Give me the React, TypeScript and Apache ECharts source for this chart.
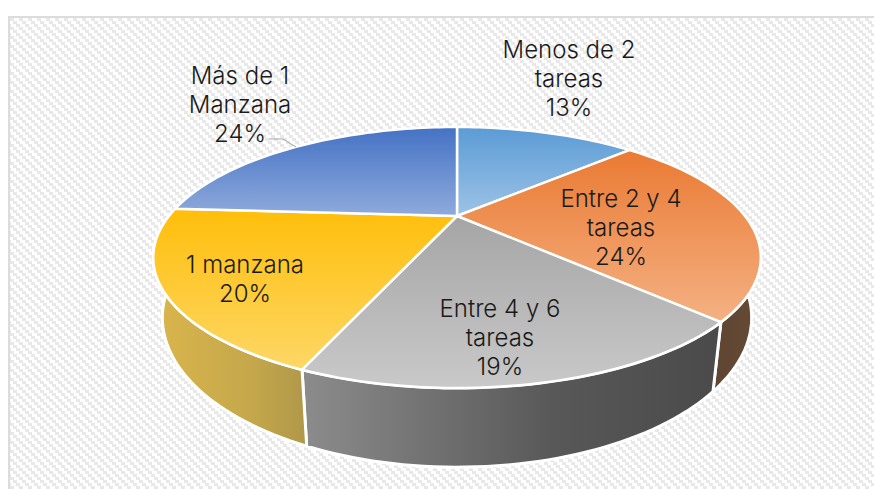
import React, { useEffect, useRef } from "react";
import * as echarts from "echarts";

const categories = ["Menos de 2 tareas", "Entre 2 y 4 tareas", "Entre 4 y 6 tareas", "1 manzana", "Más de 1 Manzana"];
const values = [13, 24.4, 18.8, 19.8, 24];
const labelLines = [
  ["Menos de 2", "tareas"],
  ["Entre 2 y 4", "tareas"],
  ["Entre 4 y 6", "tareas"],
  ["1 manzana"],
  ["Más de 1", "Manzana"],
];
const labelCenters = [[569, 78], [621, 227], [500, 337], [245, 279], [240, 104]];
const topColors = [["#5b9bd5", "#9dc3e6"], ["#ea7a33", "#f4b183"], ["#a5a5a5", "#c9c9c9"], ["#ffbe0a", "#fdd766"], ["#4472c4", "#8faadc"]];
const sideColors = [["#5b9bd5", "#5b9bd5", "#5b9bd5"], ["#5f4632", "#634834", "#664a36"], ["#8c8c8c", "#585858", "#4a4a4a"], ["#dab54c", "#c6a94b", "#b0984a"], ["#4472c4", "#4472c4", "#4472c4"]];

const OX = 457, OY = 216, A = 288, B = 117.3, K = 0.318, SHRINK = 0.97, DEPTH = 54;
const total = values.reduce((a, b) => a + b, 0);
const starts: number[] = [];
values.reduce((acc, v, i) => { starts[i] = acc; return acc + v; }, 0);
const ang = (share: number) => (share / total) * Math.PI * 2;

function topPt(t: number): number[] {
  const u = Math.sin(t), v = -Math.cos(t), w = 1 - K * v;
  return [OX + (A * u) / w, OY + (B * v) / w];
}
function botPt(t: number): number[] {
  const p = topPt(t), v = -Math.cos(t), w = 1 - K * v;
  return [OX + (p[0] - OX) * SHRINK, p[1] + DEPTH / w];
}
function arc(fn: (t: number) => number[], a: number, b: number) {
  const n = Math.max(2, Math.ceil((Math.abs(b - a) / Math.PI) * 120));
  const pts: number[][] = [];
  for (let i = 0; i <= n; i++) pts.push(fn(a + ((b - a) * i) / n));
  return pts;
}
const vGrad = (c: string[]) =>
  new echarts.graphic.LinearGradient(0, 0, 0, 1, [
    { offset: 0, color: c[0] },
    { offset: 1, color: c[1] },
  ]);
const hGrad = (c: string[]) =>
  new echarts.graphic.LinearGradient(0, 0, 1, 0, [
    { offset: 0, color: c[0] },
    { offset: 0.6, color: c[1] },
    { offset: 1, color: c[2] },
  ]);

function tile(): string {
  const c = document.createElement("canvas");
  c.width = 9; c.height = 9;
  const g = c.getContext("2d")!;
  g.fillStyle = "#ffffff"; g.fillRect(0, 0, 9, 9);
  g.fillStyle = "#e8e8e8";
  for (let y = 0; y < 9; y++) {
    const band = Math.floor(y / 3) * 3;
    for (let k = 0; k < 4; k++) g.fillRect((band + k) % 9, y, 1, 1);
  }
  return c.toDataURL();
}

export default function App() {
  const ref = useRef<HTMLDivElement>(null);
  useEffect(() => {
    document.body.style.margin = "0";
    const chart = echarts.init(ref.current!, undefined, { renderer: "svg" });
    const data = values.map((v, i) => [v, i]);
    chart.setOption({
      animation: false,
      series: [
        {
          type: "custom", name: "lados", coordinateSystem: "none", data, silent: true, z: 1,
          renderItem: (_p: any, api: any) => {
            const i = api.value(1);
            const a = Math.max(ang(starts[i]), Math.PI / 2);
            const b = Math.min(ang(starts[i] + values[i]), Math.PI * 1.5);
            if (b <= a) return { type: "group", children: [] };
            const pts = [...arc(topPt, a, b), ...arc(botPt, a, b).reverse()];
            return { type: "polygon", shape: { points: pts }, style: { fill: hGrad(sideColors[i]), stroke: "#fff", lineWidth: 3, lineJoin: "round" } };
          },
        },
        {
          type: "custom", name: "tareas", coordinateSystem: "none", data, silent: true, z: 2,
          renderItem: (_p: any, api: any) => {
            const i = api.value(1);
            const pts = [[OX, OY], ...arc(topPt, ang(starts[i]), ang(starts[i] + values[i]))];
            return { type: "polygon", shape: { points: pts }, style: { fill: vGrad(topColors[i]), stroke: "#fff", lineWidth: 2.5, lineJoin: "round" } };
          },
        },
        {
          type: "custom", name: "etiquetas", coordinateSystem: "none", data, silent: true, z: 3,
          renderItem: (_p: any, api: any) => {
            const i = api.value(1);
            const pct = Math.round((values[i] / total) * 100) + "%";
            return {
              type: "text",
              style: {
                x: labelCenters[i][0], y: labelCenters[i][1],
                text: [...labelLines[i], pct].join("\n"),
                font: "300 24px Inter", lineHeight: 29, fill: "#1a1a1a", align: "center", verticalAlign: "middle",
              },
            };
          },
        },
      ],
      graphic: [
        { type: "polyline", z: 4, silent: true, shape: { points: [[269, 139], [283, 139], [296, 147]] }, style: { stroke: "#a6a6a6", lineWidth: 1, fill: "none" } },
      ],
    });
    return () => chart.dispose();
  }, []);
  return (
    <div style={{ position: "relative", width: 874, height: 489, background: "#fff", overflow: "hidden" }}>
      <div style={{ position: "absolute", left: 8, top: 16, width: 880, height: 490, boxSizing: "border-box", border: "2px solid #dcdcdc", backgroundImage: `url(${tile()})` }} />
      <div ref={ref} style={{ position: "absolute", left: 0, top: 0, width: 874, height: 489 }} />
    </div>
  );
}
